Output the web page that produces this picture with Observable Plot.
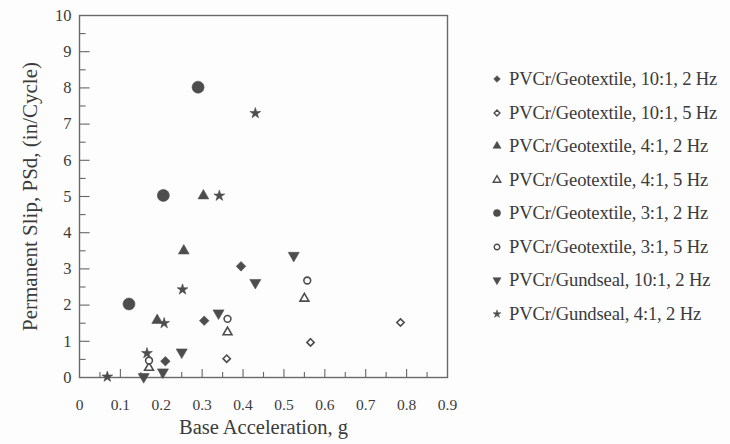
<!DOCTYPE html>
<html>
<head>
<meta charset="utf-8">
<script src="https://cdn.jsdelivr.net/npm/d3@7"></script>
<script src="https://cdn.jsdelivr.net/npm/@observablehq/plot@0.6"></script>
<style>
  body { margin: 0; background: #fdfdfd; }
  #chart { position: relative; width: 730px; height: 444px; font-family: "Liberation Serif", "Times New Roman", serif; color: #3b3b3b; }
  #legend { position: absolute; left: 491px; top: 0; }
  .row { position: absolute; left: 0; display: flex; align-items: center; white-space: nowrap; font-size: 18.6px; height: 22px; letter-spacing: -0.15px; }
  .row svg { margin-right: 6px; overflow: visible; }
</style>
</head>
<body>
<div id="chart"><div id="legend"></div></div>
<script>
// Axis ticks and labels
const xTicks = [0, 0.1, 0.2, 0.3, 0.4, 0.5, 0.6, 0.7, 0.8, 0.9];
const xTickLabels = ["0", "0.1", "0.2", "0.3", "0.4", "0.5", "0.6", "0.7", "0.8", "0.9"];
const yTicks = [0, 1, 2, 3, 4, 5, 6, 7, 8, 9, 10];
const yTickLabels = ["0", "1", "2", "3", "4", "5", "6", "7", "8", "9", "10"];

// Series: base acceleration (g) and permanent slip (in/cycle)
const geo10_2hz = { x: [0.21, 0.305, 0.395], y: [0.45, 1.57, 3.07] };
const geo10_5hz = { x: [0.36, 0.565, 0.785], y: [0.52, 0.97, 1.52] };
const geo4_2hz  = { x: [0.19, 0.255, 0.303], y: [1.58, 3.5, 5.02] };
const geo4_5hz  = { x: [0.17, 0.362, 0.55], y: [0.27, 1.25, 2.18] };
const geo3_2hz  = { x: [0.121, 0.205, 0.29], y: [2.03, 5.03, 8.02] };
const geo3_5hz  = { x: [0.17, 0.362, 0.557], y: [0.47, 1.62, 2.68] };
const gund10_2hz = { x: [0.157, 0.204, 0.25, 0.34, 0.43, 0.524], y: [0.02, 0.15, 0.7, 1.78, 2.62, 3.37] };
const gund4_2hz  = { x: [0.068, 0.165, 0.207, 0.252, 0.342, 0.43], y: [0.02, 0.67, 1.5, 2.43, 5.02, 7.3] };

const seriesNames = [
  "PVCr/Geotextile, 10:1, 2 Hz",
  "PVCr/Geotextile, 10:1, 5 Hz",
  "PVCr/Geotextile, 4:1, 2 Hz",
  "PVCr/Geotextile, 4:1, 5 Hz",
  "PVCr/Geotextile, 3:1, 2 Hz",
  "PVCr/Geotextile, 3:1, 5 Hz",
  "PVCr/Gundseal, 10:1, 2 Hz",
  "PVCr/Gundseal, 4:1, 2 Hz"
];
const seriesData = [geo10_2hz, geo10_5hz, geo4_2hz, geo4_5hz, geo3_2hz, geo3_5hz, gund10_2hz, gund4_2hz];

const ink = "#4d4d4d";

// Downward-pointing triangle symbol
const triangleDown = {
  draw(context, size) {
    const h = Math.sqrt(size / (Math.sqrt(3) * 3));
    context.moveTo(0, 2 * h);
    context.lineTo(-Math.sqrt(3) * h, -h);
    context.lineTo(Math.sqrt(3) * h, -h);
    context.closePath();
  }
};

// Marker style per series: symbol, filled or hollow, radius in the plot, radius in the legend
const markerStyles = [
  { symbol: d3.symbolDiamond2, filled: true,  r: 4.3, lr: 3.0 },
  { symbol: d3.symbolDiamond2, filled: false, r: 3.3, lr: 2.6 },
  { symbol: d3.symbolTriangle, filled: true,  r: 4.0, lr: 3.0 },
  { symbol: d3.symbolTriangle, filled: false, r: 3.3, lr: 2.8 },
  { symbol: d3.symbolCircle,   filled: true,  r: 6.0, lr: 3.6 },
  { symbol: d3.symbolCircle,   filled: false, r: 3.4, lr: 2.8 },
  { symbol: triangleDown,      filled: true,  r: 4.1, lr: 3.0 },
  { symbol: d3.symbolStar,     filled: true,  r: 3.4, lr: 2.5 }
];

const minorX = d3.range(1, 18).map(i => i * 0.05);
const majorY = d3.range(1, 10);
const minorY = d3.range(0, 10).map(i => i + 0.5);

const dotMarks = seriesData.map((s, k) => {
  const st = markerStyles[k];
  const rows = s.x.map((x, i) => ({ x, y: s.y[i] }));
  return Plot.dot(rows, {
    x: "x", y: "y", r: st.r, symbol: st.symbol,
    fill: st.filled ? ink : "#fdfdfd",
    stroke: ink,
    strokeWidth: st.filled ? 0.6 : 1.6
  });
});

const chart = Plot.plot({
  width: 730,
  height: 444,
  marginLeft: 79,
  marginRight: 283,
  marginTop: 15,
  marginBottom: 67,
  style: { fontFamily: "'Liberation Serif', 'Times New Roman', serif", fontSize: "16px", color: "#3b3b3b", background: "transparent", overflow: "visible" },
  x: { domain: [0, 0.9] },
  y: { domain: [0, 10] },
  marks: [
    // inward tick marks along the bottom and left axes
    Plot.ruleX(minorX, { x: d => d, y1: 0, y2: d => (Math.round(d * 20) % 2 === 0 ? 0.22 : 0.14), stroke: "#666", strokeWidth: 1.1 }),
    Plot.ruleY(majorY, { y: d => d, x1: 0, x2: 0.026, stroke: "#666", strokeWidth: 1.1 }),
    Plot.ruleY(minorY, { y: d => d, x1: 0, x2: 0.016, stroke: "#666", strokeWidth: 1.1 }),
    Plot.frame({ stroke: "#6a6a6a", strokeWidth: 1.4 }),
    Plot.axisX({ ticks: xTicks, tickSize: 0, tickPadding: 21, tickFormat: (d, i) => xTickLabels[i], label: null, fontSize: 15.5 }),
    Plot.axisY({ ticks: yTicks, tickSize: 0, tickPadding: 8, tickFormat: (d, i) => yTickLabels[i], label: null, fontSize: 16.5 }),
    Plot.text(["Base Acceleration, g"], { text: d => d, frameAnchor: "bottom", textAnchor: "middle", dy: 56, fontSize: 20.5, fill: "#3b3b3b" }),
    Plot.text(["Permanent Slip, PSd, (in/Cycle)"], { text: d => d, frameAnchor: "left", textAnchor: "middle", rotate: -90, dx: -49, fontSize: 21, fill: "#3b3b3b" }),
    ...dotMarks
  ]
});

document.getElementById("chart").prepend(chart);

// Legend to the right of the plot frame
const legend = d3.select("#legend");
seriesNames.forEach((name, k) => {
  const st = markerStyles[k];
  const row = legend.append("div").attr("class", "row").style("top", (79 + k * 33.5 - 11) + "px");
  const svg = row.append("svg").attr("width", 12).attr("height", 12);
  svg.append("path")
    .attr("transform", "translate(6,6)")
    .attr("d", d3.symbol(st.symbol, Math.PI * st.lr * st.lr)())
    .attr("fill", st.filled ? ink : "#fdfdfd")
    .attr("stroke", ink)
    .attr("stroke-width", st.filled ? 0.5 : 1.4);
  row.append("span").text(name);
});
</script>
</body>
</html>
